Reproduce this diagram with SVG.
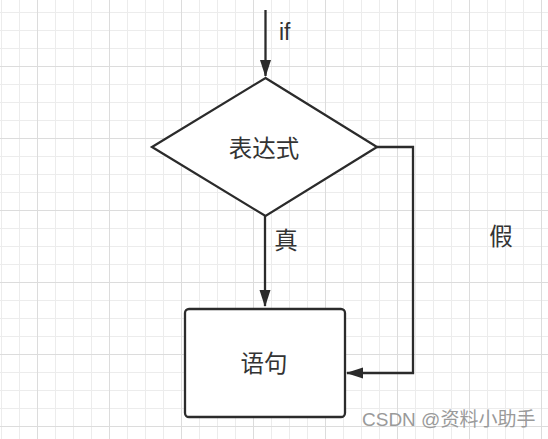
<svg xmlns="http://www.w3.org/2000/svg" width="548" height="439" viewBox="0 0 548 439">
  <defs>
    <pattern id="gridS" patternUnits="userSpaceOnUse" x="1" y="12" width="18" height="18">
      <rect x="0" y="0" width="18" height="1" fill="#ececec"/>
      <rect x="0" y="0" width="1" height="18" fill="#ececec"/>
    </pattern>
    <pattern id="gridL" patternUnits="userSpaceOnUse" x="37" y="66" width="72" height="72">
      <rect x="0" y="0" width="72" height="1" fill="#dcdcdc"/>
      <rect x="0" y="0" width="1" height="72" fill="#dcdcdc"/>
    </pattern>
    <marker id="arrow" markerUnits="userSpaceOnUse" markerWidth="18" markerHeight="12" refX="16" refY="5.5" orient="auto">
      <path d="M0,0 L17,5.5 L0,11 Z" fill="#2b2b2b"/>
    </marker>
  </defs>
  <style>
    .shape { fill: #ffffff; stroke: #2b2b2b; stroke-width: 2.3; }
    .conn { fill: none; stroke: #2b2b2b; stroke-width: 2.3; marker-end: url(#arrow); }
    .cjk { font-family: "Noto Sans CJK SC", "Noto Sans", sans-serif; font-size: 23.5px; fill: #333333; }
    .lat { font-family: "Liberation Sans", "Noto Sans", sans-serif; font-size: 23px; fill: #333333; }
    .wm { font-family: "Liberation Sans", "Noto Sans CJK SC", sans-serif; font-size: 19px; fill: #9a9a9a; }
  </style>
  <rect x="0" y="0" width="548" height="439" fill="#ffffff"/>
  <rect x="0" y="0" width="548" height="439" fill="url(#gridS)"/>
  <rect x="0" y="0" width="548" height="439" fill="url(#gridL)"/>

  <g id="connectors">
    <path class="conn" d="M265.5,10 V76"/>
    <path class="conn" d="M265,216 V306"/>
    <path class="conn" d="M377,147 H413 V373 H347"/>
  </g>

  <g id="node-condition">
    <polygon class="shape" points="265.5,78 377,147 265.5,216 152,147"/>
    <text class="cjk" x="264" y="147" text-anchor="middle" dominant-baseline="central">表达式</text>
  </g>

  <g id="node-statement">
    <rect class="shape" x="185" y="309" width="160" height="108" rx="4"/>
    <text class="cjk" x="264" y="362" text-anchor="middle" dominant-baseline="central">语句</text>
  </g>

  <g id="labels">
    <text class="lat" x="279" y="40">if</text>
    <text class="cjk" x="286" y="239" text-anchor="middle" dominant-baseline="central">真</text>
    <text class="cjk" x="501" y="235" text-anchor="middle" dominant-baseline="central">假</text>
  </g>

  <text class="wm" x="362" y="426">CSDN @资料小助手</text>
</svg>
